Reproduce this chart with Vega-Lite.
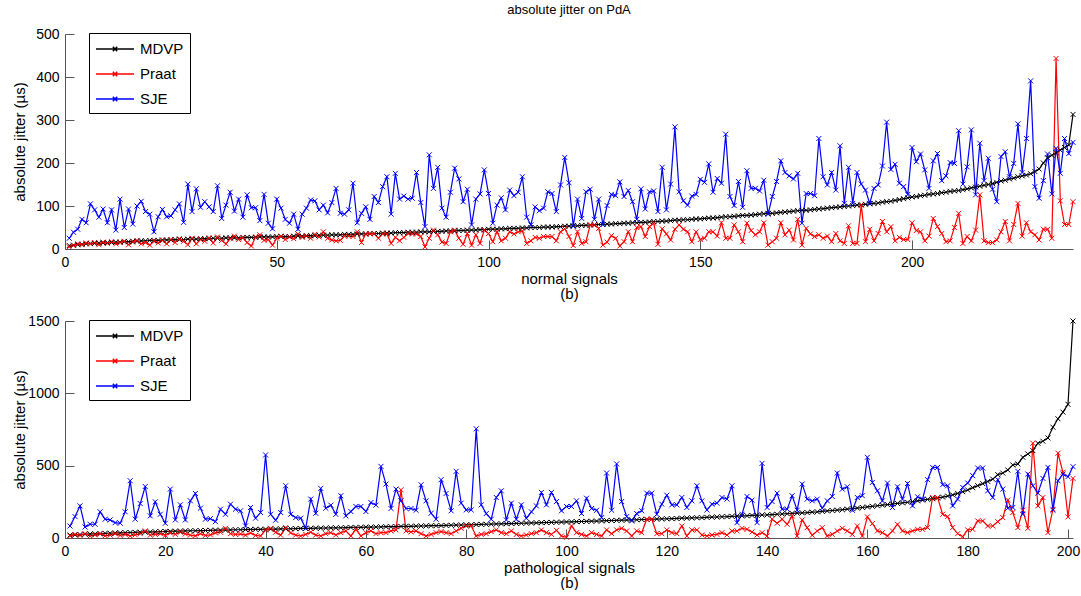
{
"$schema": "https://vega.github.io/schema/vega-lite/v6.json",
"padding": {"left": 12, "top": 4, "right": 5, "bottom": 0},
"spacing": 13,
"config": {
  "font": "Liberation Sans",
  "view": {"stroke": null},
  "axis": {"domainColor": "#555", "tickColor": "#555", "tickSize": -9, "labelPadding": 15, "labelFontSize": 14, "titleFontSize": 15, "titleFontWeight": "normal", "labelColor": "#000", "titleColor": "#000", "grid": false, "labelFlush": false, "domainWidth": 1, "tickWidth": 1},
  "axisX": {"titlePadding": 2, "titleLineHeight": 15},
  "axisY": {"titleX": -38},
  "legend": {"title": null, "orient": "none", "legendX": 24, "legendY": -1, "symbolType": "M-1,0L3.22,0M0.87,-0.25L1.36,0.25M0.87,0.25L1.36,-0.25", "symbolSize": 324, "symbolStrokeWidth": 1.5, "labelFontSize": 15, "labelOffset": 25, "rowPadding": 7, "padding": 6, "strokeColor": "#000", "fillColor": "#fff", "labelColor": "#000"},
  "title": {"fontSize": 13, "fontWeight": "normal", "color": "#000", "frame": "group", "offset": 10}
},
"datasets": {
"normal": [
{"x":1,"MDVP":8,"Praat":5,"SJE":25},{"x":2,"MDVP":9,"Praat":8,"SJE":39},{"x":3,"MDVP":10,"Praat":12,"SJE":46},{"x":4,"MDVP":11,"Praat":10,"SJE":69},{"x":5,"MDVP":12,"Praat":14,"SJE":61},{"x":6,"MDVP":13,"Praat":12,"SJE":105},{"x":7,"MDVP":13,"Praat":15,"SJE":91},{"x":8,"MDVP":14,"Praat":10,"SJE":74},{"x":9,"MDVP":14,"Praat":16,"SJE":93},{"x":10,"MDVP":15,"Praat":13,"SJE":61},
{"x":11,"MDVP":15,"Praat":17,"SJE":91},{"x":12,"MDVP":16,"Praat":12,"SJE":44},{"x":13,"MDVP":16,"Praat":15,"SJE":116},{"x":14,"MDVP":17,"Praat":18,"SJE":50},{"x":15,"MDVP":17,"Praat":10,"SJE":93},{"x":16,"MDVP":18,"Praat":16,"SJE":58},{"x":17,"MDVP":18,"Praat":20,"SJE":100},{"x":18,"MDVP":19,"Praat":12,"SJE":111},{"x":19,"MDVP":19,"Praat":15,"SJE":87},{"x":20,"MDVP":20,"Praat":9,"SJE":81},
{"x":21,"MDVP":20,"Praat":18,"SJE":40},{"x":22,"MDVP":20,"Praat":14,"SJE":75},{"x":23,"MDVP":21,"Praat":20,"SJE":92},{"x":24,"MDVP":21,"Praat":12,"SJE":75},{"x":25,"MDVP":21,"Praat":22,"SJE":77},{"x":26,"MDVP":22,"Praat":15,"SJE":91},{"x":27,"MDVP":22,"Praat":24,"SJE":105},{"x":28,"MDVP":22,"Praat":18,"SJE":62},{"x":29,"MDVP":23,"Praat":10,"SJE":151},{"x":30,"MDVP":23,"Praat":25,"SJE":87},
{"x":31,"MDVP":23,"Praat":12,"SJE":140},{"x":32,"MDVP":24,"Praat":22,"SJE":97},{"x":33,"MDVP":24,"Praat":18,"SJE":110},{"x":34,"MDVP":24,"Praat":26,"SJE":98},{"x":35,"MDVP":25,"Praat":14,"SJE":87},{"x":36,"MDVP":25,"Praat":28,"SJE":147},{"x":37,"MDVP":25,"Praat":20,"SJE":71},{"x":38,"MDVP":26,"Praat":12,"SJE":102},{"x":39,"MDVP":26,"Praat":24,"SJE":132},{"x":40,"MDVP":26,"Praat":30,"SJE":88},
{"x":41,"MDVP":26,"Praat":22,"SJE":116},{"x":42,"MDVP":27,"Praat":26,"SJE":74},{"x":43,"MDVP":27,"Praat":15,"SJE":126},{"x":44,"MDVP":27,"Praat":7,"SJE":96},{"x":45,"MDVP":27,"Praat":28,"SJE":96},{"x":46,"MDVP":28,"Praat":33,"SJE":66},{"x":47,"MDVP":28,"Praat":20,"SJE":127},{"x":48,"MDVP":28,"Praat":22,"SJE":60},{"x":49,"MDVP":28,"Praat":9,"SJE":47},{"x":50,"MDVP":29,"Praat":25,"SJE":116},
{"x":51,"MDVP":29,"Praat":30,"SJE":95},{"x":52,"MDVP":29,"Praat":22,"SJE":69},{"x":53,"MDVP":29,"Praat":28,"SJE":60},{"x":54,"MDVP":30,"Praat":24,"SJE":81},{"x":55,"MDVP":30,"Praat":35,"SJE":46},{"x":56,"MDVP":30,"Praat":27,"SJE":81},{"x":57,"MDVP":31,"Praat":30,"SJE":95},{"x":58,"MDVP":31,"Praat":25,"SJE":114},{"x":59,"MDVP":31,"Praat":34,"SJE":112},{"x":60,"MDVP":32,"Praat":28,"SJE":91},
{"x":61,"MDVP":32,"Praat":40,"SJE":102},{"x":62,"MDVP":32,"Praat":25,"SJE":84},{"x":63,"MDVP":33,"Praat":21,"SJE":108},{"x":64,"MDVP":33,"Praat":19,"SJE":141},{"x":65,"MDVP":33,"Praat":20,"SJE":83},{"x":66,"MDVP":34,"Praat":30,"SJE":81},{"x":67,"MDVP":34,"Praat":30,"SJE":91},{"x":68,"MDVP":34,"Praat":29,"SJE":153},{"x":69,"MDVP":35,"Praat":40,"SJE":61},{"x":70,"MDVP":35,"Praat":15,"SJE":83},
{"x":71,"MDVP":35,"Praat":35,"SJE":98},{"x":72,"MDVP":36,"Praat":35,"SJE":69},{"x":73,"MDVP":36,"Praat":36,"SJE":122},{"x":74,"MDVP":36,"Praat":25,"SJE":108},{"x":75,"MDVP":37,"Praat":35,"SJE":145},{"x":76,"MDVP":37,"Praat":35,"SJE":168},{"x":77,"MDVP":37,"Praat":13,"SJE":81},{"x":78,"MDVP":38,"Praat":27,"SJE":176},{"x":79,"MDVP":38,"Praat":19,"SJE":116},{"x":80,"MDVP":38,"Praat":27,"SJE":123},
{"x":81,"MDVP":39,"Praat":36,"SJE":116},{"x":82,"MDVP":39,"Praat":35,"SJE":118},{"x":83,"MDVP":39,"Praat":35,"SJE":178},{"x":84,"MDVP":40,"Praat":29,"SJE":108},{"x":85,"MDVP":40,"Praat":5,"SJE":52},{"x":86,"MDVP":40,"Praat":25,"SJE":219},{"x":87,"MDVP":41,"Praat":44,"SJE":141},{"x":88,"MDVP":41,"Praat":33,"SJE":190},{"x":89,"MDVP":41,"Praat":16,"SJE":95},{"x":90,"MDVP":42,"Praat":13,"SJE":74},
{"x":91,"MDVP":42,"Praat":40,"SJE":132},{"x":92,"MDVP":42,"Praat":44,"SJE":188},{"x":93,"MDVP":43,"Praat":25,"SJE":163},{"x":94,"MDVP":43,"Praat":11,"SJE":110},{"x":95,"MDVP":44,"Praat":36,"SJE":139},{"x":96,"MDVP":44,"Praat":9,"SJE":56},{"x":97,"MDVP":44,"Praat":33,"SJE":116},{"x":98,"MDVP":45,"Praat":13,"SJE":128},{"x":99,"MDVP":45,"Praat":44,"SJE":184},{"x":100,"MDVP":46,"Praat":36,"SJE":129},
{"x":101,"MDVP":46,"Praat":17,"SJE":60},{"x":102,"MDVP":46,"Praat":40,"SJE":102},{"x":103,"MDVP":47,"Praat":19,"SJE":119},{"x":104,"MDVP":47,"Praat":25,"SJE":91},{"x":105,"MDVP":48,"Praat":40,"SJE":137},{"x":106,"MDVP":48,"Praat":35,"SJE":124},{"x":107,"MDVP":48,"Praat":40,"SJE":132},{"x":108,"MDVP":49,"Praat":42,"SJE":168},{"x":109,"MDVP":49,"Praat":13,"SJE":74},{"x":110,"MDVP":50,"Praat":19,"SJE":56},
{"x":111,"MDVP":50,"Praat":27,"SJE":98},{"x":112,"MDVP":50,"Praat":25,"SJE":89},{"x":113,"MDVP":51,"Praat":29,"SJE":95},{"x":114,"MDVP":51,"Praat":29,"SJE":133},{"x":115,"MDVP":51,"Praat":29,"SJE":129},{"x":116,"MDVP":52,"Praat":19,"SJE":87},{"x":117,"MDVP":52,"Praat":40,"SJE":149},{"x":118,"MDVP":53,"Praat":47,"SJE":213},{"x":119,"MDVP":53,"Praat":29,"SJE":154},{"x":120,"MDVP":54,"Praat":8,"SJE":53},
{"x":121,"MDVP":54,"Praat":40,"SJE":116},{"x":122,"MDVP":55,"Praat":13,"SJE":71},{"x":123,"MDVP":55,"Praat":17,"SJE":133},{"x":124,"MDVP":56,"Praat":56,"SJE":139},{"x":125,"MDVP":56,"Praat":56,"SJE":69},{"x":126,"MDVP":57,"Praat":48,"SJE":116},{"x":127,"MDVP":57,"Praat":9,"SJE":57},{"x":128,"MDVP":58,"Praat":16,"SJE":101},{"x":129,"MDVP":58,"Praat":31,"SJE":127},{"x":130,"MDVP":59,"Praat":25,"SJE":124},
{"x":131,"MDVP":59,"Praat":7,"SJE":156},{"x":132,"MDVP":60,"Praat":17,"SJE":122},{"x":133,"MDVP":60,"Praat":40,"SJE":136},{"x":134,"MDVP":61,"Praat":17,"SJE":110},{"x":135,"MDVP":61,"Praat":50,"SJE":69},{"x":136,"MDVP":62,"Praat":52,"SJE":140},{"x":137,"MDVP":62,"Praat":29,"SJE":93},{"x":138,"MDVP":63,"Praat":52,"SJE":133},{"x":139,"MDVP":64,"Praat":60,"SJE":135},{"x":140,"MDVP":64,"Praat":11,"SJE":87},
{"x":141,"MDVP":65,"Praat":47,"SJE":190},{"x":142,"MDVP":65,"Praat":35,"SJE":91},{"x":143,"MDVP":66,"Praat":21,"SJE":151},{"x":144,"MDVP":67,"Praat":46,"SJE":284},{"x":145,"MDVP":67,"Praat":56,"SJE":133},{"x":146,"MDVP":68,"Praat":46,"SJE":112},{"x":147,"MDVP":68,"Praat":40,"SJE":102},{"x":148,"MDVP":69,"Praat":17,"SJE":123},{"x":149,"MDVP":70,"Praat":40,"SJE":127},{"x":150,"MDVP":70,"Praat":22,"SJE":162},
{"x":151,"MDVP":71,"Praat":25,"SJE":155},{"x":152,"MDVP":72,"Praat":40,"SJE":198},{"x":153,"MDVP":72,"Praat":40,"SJE":132},{"x":154,"MDVP":73,"Praat":30,"SJE":164},{"x":155,"MDVP":74,"Praat":61,"SJE":153},{"x":156,"MDVP":75,"Praat":25,"SJE":267},{"x":157,"MDVP":75,"Praat":25,"SJE":122},{"x":158,"MDVP":76,"Praat":56,"SJE":101},{"x":159,"MDVP":77,"Praat":40,"SJE":157},{"x":160,"MDVP":78,"Praat":17,"SJE":97},
{"x":161,"MDVP":78,"Praat":60,"SJE":182},{"x":162,"MDVP":79,"Praat":43,"SJE":141},{"x":163,"MDVP":80,"Praat":33,"SJE":141},{"x":164,"MDVP":81,"Praat":40,"SJE":135},{"x":165,"MDVP":82,"Praat":61,"SJE":160},{"x":166,"MDVP":83,"Praat":9,"SJE":81},{"x":167,"MDVP":83,"Praat":17,"SJE":122},{"x":168,"MDVP":84,"Praat":25,"SJE":157},{"x":169,"MDVP":85,"Praat":61,"SJE":205},{"x":170,"MDVP":86,"Praat":33,"SJE":178},
{"x":171,"MDVP":87,"Praat":44,"SJE":170},{"x":172,"MDVP":88,"Praat":21,"SJE":163},{"x":173,"MDVP":89,"Praat":69,"SJE":176},{"x":174,"MDVP":90,"Praat":9,"SJE":60},{"x":175,"MDVP":90,"Praat":48,"SJE":129},{"x":176,"MDVP":91,"Praat":35,"SJE":129},{"x":177,"MDVP":92,"Praat":29,"SJE":124},{"x":178,"MDVP":93,"Praat":33,"SJE":257},{"x":179,"MDVP":94,"Praat":25,"SJE":168},{"x":180,"MDVP":95,"Praat":30,"SJE":149},
{"x":181,"MDVP":96,"Praat":17,"SJE":178},{"x":182,"MDVP":97,"Praat":36,"SJE":137},{"x":183,"MDVP":98,"Praat":19,"SJE":240},{"x":184,"MDVP":99,"Praat":13,"SJE":106},{"x":185,"MDVP":100,"Praat":54,"SJE":190},{"x":186,"MDVP":101,"Praat":13,"SJE":106},{"x":187,"MDVP":102,"Praat":13,"SJE":178},{"x":188,"MDVP":103,"Praat":102,"SJE":151},{"x":189,"MDVP":104,"Praat":17,"SJE":137},{"x":190,"MDVP":105,"Praat":46,"SJE":106},
{"x":191,"MDVP":106,"Praat":19,"SJE":141},{"x":192,"MDVP":107,"Praat":36,"SJE":149},{"x":193,"MDVP":109,"Praat":64,"SJE":193},{"x":194,"MDVP":110,"Praat":40,"SJE":295},{"x":195,"MDVP":111,"Praat":52,"SJE":185},{"x":196,"MDVP":113,"Praat":19,"SJE":197},{"x":197,"MDVP":115,"Praat":27,"SJE":153},{"x":198,"MDVP":117,"Praat":22,"SJE":145},{"x":199,"MDVP":119,"Praat":22,"SJE":127},{"x":200,"MDVP":121,"Praat":61,"SJE":236},
{"x":201,"MDVP":122,"Praat":43,"SJE":203},{"x":202,"MDVP":124,"Praat":40,"SJE":221},{"x":203,"MDVP":125,"Praat":19,"SJE":184},{"x":204,"MDVP":127,"Praat":30,"SJE":141},{"x":205,"MDVP":128,"Praat":71,"SJE":205},{"x":206,"MDVP":129,"Praat":52,"SJE":222},{"x":207,"MDVP":131,"Praat":36,"SJE":159},{"x":208,"MDVP":132,"Praat":17,"SJE":170},{"x":209,"MDVP":134,"Praat":19,"SJE":201},{"x":210,"MDVP":135,"Praat":50,"SJE":199},
{"x":211,"MDVP":136,"Praat":83,"SJE":275},{"x":212,"MDVP":138,"Praat":13,"SJE":151},{"x":213,"MDVP":140,"Praat":29,"SJE":191},{"x":214,"MDVP":142,"Praat":19,"SJE":277},{"x":215,"MDVP":144,"Praat":44,"SJE":126},{"x":216,"MDVP":146,"Praat":126,"SJE":246},{"x":217,"MDVP":148,"Praat":19,"SJE":159},{"x":218,"MDVP":150,"Praat":15,"SJE":211},{"x":219,"MDVP":152,"Praat":15,"SJE":139},{"x":220,"MDVP":155,"Praat":21,"SJE":110},
{"x":221,"MDVP":158,"Praat":40,"SJE":215},{"x":222,"MDVP":160,"Praat":64,"SJE":226},{"x":223,"MDVP":163,"Praat":19,"SJE":168},{"x":224,"MDVP":165,"Praat":57,"SJE":199},{"x":225,"MDVP":168,"Praat":106,"SJE":291},{"x":226,"MDVP":170,"Praat":30,"SJE":178},{"x":227,"MDVP":172,"Praat":61,"SJE":257},{"x":228,"MDVP":175,"Praat":40,"SJE":391},{"x":229,"MDVP":180,"Praat":33,"SJE":145},{"x":230,"MDVP":186,"Praat":21,"SJE":118},
{"x":231,"MDVP":200,"Praat":46,"SJE":159},{"x":232,"MDVP":212,"Praat":46,"SJE":221},{"x":233,"MDVP":218,"Praat":25,"SJE":128},{"x":234,"MDVP":224,"Praat":443,"SJE":234},{"x":235,"MDVP":230,"Praat":112,"SJE":176},{"x":236,"MDVP":236,"Praat":57,"SJE":257},{"x":237,"MDVP":242,"Praat":57,"SJE":222},{"x":238,"MDVP":313,"Praat":110,"SJE":248}
],
"patho": [
{"x":1,"MDVP":20,"Praat":15,"SJE":83},{"x":2,"MDVP":22,"Praat":25,"SJE":148},{"x":3,"MDVP":24,"Praat":18,"SJE":222},{"x":4,"MDVP":26,"Praat":30,"SJE":76},{"x":5,"MDVP":28,"Praat":14,"SJE":95},{"x":6,"MDVP":29,"Praat":22,"SJE":95},{"x":7,"MDVP":31,"Praat":28,"SJE":181},{"x":8,"MDVP":32,"Praat":15,"SJE":130},{"x":9,"MDVP":33,"Praat":20,"SJE":125},{"x":10,"MDVP":35,"Praat":30,"SJE":106},
{"x":11,"MDVP":36,"Praat":18,"SJE":102},{"x":12,"MDVP":37,"Praat":25,"SJE":181},{"x":13,"MDVP":38,"Praat":14,"SJE":396},{"x":14,"MDVP":39,"Praat":22,"SJE":130},{"x":15,"MDVP":40,"Praat":30,"SJE":238},{"x":16,"MDVP":41,"Praat":49,"SJE":356},{"x":17,"MDVP":42,"Praat":20,"SJE":153},{"x":18,"MDVP":43,"Praat":25,"SJE":250},{"x":19,"MDVP":44,"Praat":30,"SJE":164},{"x":20,"MDVP":45,"Praat":18,"SJE":102},
{"x":21,"MDVP":46,"Praat":35,"SJE":338},{"x":22,"MDVP":47,"Praat":25,"SJE":125},{"x":23,"MDVP":48,"Praat":40,"SJE":229},{"x":24,"MDVP":49,"Praat":28,"SJE":125},{"x":25,"MDVP":50,"Praat":20,"SJE":257},{"x":26,"MDVP":50,"Praat":15,"SJE":308},{"x":27,"MDVP":51,"Praat":30,"SJE":206},{"x":28,"MDVP":52,"Praat":18,"SJE":130},{"x":29,"MDVP":53,"Praat":22,"SJE":134},{"x":30,"MDVP":54,"Praat":35,"SJE":113},
{"x":31,"MDVP":54,"Praat":40,"SJE":199},{"x":32,"MDVP":55,"Praat":67,"SJE":164},{"x":33,"MDVP":56,"Praat":30,"SJE":234},{"x":34,"MDVP":57,"Praat":25,"SJE":199},{"x":35,"MDVP":57,"Praat":28,"SJE":188},{"x":36,"MDVP":58,"Praat":20,"SJE":83},{"x":37,"MDVP":59,"Praat":35,"SJE":211},{"x":38,"MDVP":60,"Praat":18,"SJE":137},{"x":39,"MDVP":60,"Praat":14,"SJE":176},{"x":40,"MDVP":61,"Praat":55,"SJE":574},
{"x":41,"MDVP":62,"Praat":67,"SJE":164},{"x":42,"MDVP":62,"Praat":40,"SJE":123},{"x":43,"MDVP":63,"Praat":20,"SJE":176},{"x":44,"MDVP":64,"Praat":72,"SJE":361},{"x":45,"MDVP":64,"Praat":35,"SJE":164},{"x":46,"MDVP":65,"Praat":20,"SJE":141},{"x":47,"MDVP":66,"Praat":14,"SJE":137},{"x":48,"MDVP":66,"Praat":25,"SJE":67},{"x":49,"MDVP":67,"Praat":40,"SJE":269},{"x":50,"MDVP":68,"Praat":20,"SJE":171},
{"x":51,"MDVP":68,"Praat":14,"SJE":343},{"x":52,"MDVP":69,"Praat":30,"SJE":206},{"x":53,"MDVP":70,"Praat":37,"SJE":227},{"x":54,"MDVP":70,"Praat":21,"SJE":164},{"x":55,"MDVP":71,"Praat":37,"SJE":292},{"x":56,"MDVP":72,"Praat":49,"SJE":153},{"x":57,"MDVP":73,"Praat":14,"SJE":183},{"x":58,"MDVP":73,"Praat":60,"SJE":218},{"x":59,"MDVP":74,"Praat":14,"SJE":218},{"x":60,"MDVP":75,"Praat":37,"SJE":183},
{"x":61,"MDVP":75,"Praat":49,"SJE":245},{"x":62,"MDVP":76,"Praat":30,"SJE":227},{"x":63,"MDVP":77,"Praat":37,"SJE":495},{"x":64,"MDVP":78,"Praat":37,"SJE":373},{"x":65,"MDVP":78,"Praat":49,"SJE":204},{"x":66,"MDVP":79,"Praat":56,"SJE":338},{"x":67,"MDVP":80,"Praat":333,"SJE":257},{"x":68,"MDVP":81,"Praat":49,"SJE":204},{"x":69,"MDVP":81,"Praat":42,"SJE":204},{"x":70,"MDVP":82,"Praat":49,"SJE":192},
{"x":71,"MDVP":83,"Praat":30,"SJE":368},{"x":72,"MDVP":84,"Praat":14,"SJE":257},{"x":73,"MDVP":85,"Praat":25,"SJE":171},{"x":74,"MDVP":85,"Praat":37,"SJE":130},{"x":75,"MDVP":86,"Praat":44,"SJE":403},{"x":76,"MDVP":87,"Praat":37,"SJE":308},{"x":77,"MDVP":88,"Praat":30,"SJE":188},{"x":78,"MDVP":89,"Praat":49,"SJE":461},{"x":79,"MDVP":90,"Praat":67,"SJE":241},{"x":80,"MDVP":91,"Praat":83,"SJE":194},
{"x":81,"MDVP":92,"Praat":83,"SJE":194},{"x":82,"MDVP":93,"Praat":14,"SJE":755},{"x":83,"MDVP":94,"Praat":25,"SJE":229},{"x":84,"MDVP":95,"Praat":30,"SJE":169},{"x":85,"MDVP":96,"Praat":44,"SJE":130},{"x":86,"MDVP":97,"Praat":56,"SJE":280},{"x":87,"MDVP":98,"Praat":37,"SJE":326},{"x":88,"MDVP":99,"Praat":30,"SJE":125},{"x":89,"MDVP":100,"Praat":49,"SJE":241},{"x":90,"MDVP":101,"Praat":25,"SJE":130},
{"x":91,"MDVP":102,"Praat":14,"SJE":229},{"x":92,"MDVP":103,"Praat":21,"SJE":137},{"x":93,"MDVP":104,"Praat":30,"SJE":181},{"x":94,"MDVP":105,"Praat":37,"SJE":222},{"x":95,"MDVP":106,"Praat":56,"SJE":315},{"x":96,"MDVP":107,"Praat":37,"SJE":229},{"x":97,"MDVP":108,"Praat":25,"SJE":315},{"x":98,"MDVP":109,"Praat":53,"SJE":252},{"x":99,"MDVP":110,"Praat":14,"SJE":188},{"x":100,"MDVP":111,"Praat":5,"SJE":218},
{"x":101,"MDVP":112,"Praat":83,"SJE":218},{"x":102,"MDVP":113,"Praat":37,"SJE":257},{"x":103,"MDVP":114,"Praat":25,"SJE":169},{"x":104,"MDVP":115,"Praat":14,"SJE":275},{"x":105,"MDVP":116,"Praat":37,"SJE":204},{"x":106,"MDVP":117,"Praat":25,"SJE":192},{"x":107,"MDVP":118,"Praat":14,"SJE":141},{"x":108,"MDVP":120,"Praat":56,"SJE":449},{"x":109,"MDVP":121,"Praat":30,"SJE":192},{"x":110,"MDVP":122,"Praat":56,"SJE":512},
{"x":111,"MDVP":123,"Praat":67,"SJE":252},{"x":112,"MDVP":124,"Praat":49,"SJE":148},{"x":113,"MDVP":125,"Praat":14,"SJE":118},{"x":114,"MDVP":126,"Praat":49,"SJE":169},{"x":115,"MDVP":128,"Praat":37,"SJE":188},{"x":116,"MDVP":129,"Praat":130,"SJE":310},{"x":117,"MDVP":130,"Praat":130,"SJE":310},{"x":118,"MDVP":131,"Praat":30,"SJE":164},{"x":119,"MDVP":132,"Praat":30,"SJE":234},{"x":120,"MDVP":133,"Praat":56,"SJE":296},
{"x":121,"MDVP":134,"Praat":37,"SJE":229},{"x":122,"MDVP":135,"Praat":30,"SJE":229},{"x":123,"MDVP":137,"Praat":83,"SJE":280},{"x":124,"MDVP":138,"Praat":14,"SJE":211},{"x":125,"MDVP":139,"Praat":56,"SJE":257},{"x":126,"MDVP":140,"Praat":56,"SJE":361},{"x":127,"MDVP":141,"Praat":21,"SJE":257},{"x":128,"MDVP":143,"Praat":14,"SJE":194},{"x":129,"MDVP":144,"Praat":21,"SJE":234},{"x":130,"MDVP":145,"Praat":25,"SJE":241},
{"x":131,"MDVP":147,"Praat":37,"SJE":280},{"x":132,"MDVP":148,"Praat":21,"SJE":269},{"x":133,"MDVP":150,"Praat":49,"SJE":361},{"x":134,"MDVP":151,"Praat":49,"SJE":106},{"x":135,"MDVP":153,"Praat":67,"SJE":164},{"x":136,"MDVP":154,"Praat":60,"SJE":287},{"x":137,"MDVP":156,"Praat":42,"SJE":262},{"x":138,"MDVP":157,"Praat":21,"SJE":106},{"x":139,"MDVP":159,"Praat":37,"SJE":516},{"x":140,"MDVP":160,"Praat":14,"SJE":211},
{"x":141,"MDVP":162,"Praat":130,"SJE":252},{"x":142,"MDVP":164,"Praat":102,"SJE":310},{"x":143,"MDVP":166,"Praat":130,"SJE":199},{"x":144,"MDVP":168,"Praat":95,"SJE":199},{"x":145,"MDVP":170,"Praat":153,"SJE":292},{"x":146,"MDVP":172,"Praat":14,"SJE":192},{"x":147,"MDVP":174,"Praat":125,"SJE":373},{"x":148,"MDVP":176,"Praat":72,"SJE":269},{"x":149,"MDVP":179,"Praat":19,"SJE":257},{"x":150,"MDVP":181,"Praat":49,"SJE":269},
{"x":151,"MDVP":184,"Praat":72,"SJE":206},{"x":152,"MDVP":187,"Praat":14,"SJE":257},{"x":153,"MDVP":190,"Praat":25,"SJE":287},{"x":154,"MDVP":193,"Praat":49,"SJE":449},{"x":155,"MDVP":196,"Praat":67,"SJE":338},{"x":156,"MDVP":200,"Praat":49,"SJE":354},{"x":157,"MDVP":203,"Praat":25,"SJE":192},{"x":158,"MDVP":207,"Praat":83,"SJE":280},{"x":159,"MDVP":211,"Praat":14,"SJE":292},{"x":160,"MDVP":215,"Praat":146,"SJE":558},
{"x":161,"MDVP":219,"Praat":100,"SJE":384},{"x":162,"MDVP":223,"Praat":49,"SJE":326},{"x":163,"MDVP":227,"Praat":37,"SJE":257},{"x":164,"MDVP":231,"Praat":14,"SJE":380},{"x":165,"MDVP":235,"Praat":49,"SJE":211},{"x":166,"MDVP":239,"Praat":95,"SJE":354},{"x":167,"MDVP":243,"Praat":49,"SJE":269},{"x":168,"MDVP":247,"Praat":37,"SJE":377},{"x":169,"MDVP":252,"Praat":49,"SJE":222},{"x":170,"MDVP":257,"Praat":60,"SJE":285},
{"x":171,"MDVP":262,"Praat":60,"SJE":269},{"x":172,"MDVP":267,"Praat":72,"SJE":403},{"x":173,"MDVP":272,"Praat":280,"SJE":488},{"x":174,"MDVP":277,"Praat":280,"SJE":488},{"x":175,"MDVP":283,"Praat":164,"SJE":368},{"x":176,"MDVP":290,"Praat":148,"SJE":361},{"x":177,"MDVP":298,"Praat":72,"SJE":222},{"x":178,"MDVP":308,"Praat":30,"SJE":269},{"x":179,"MDVP":320,"Praat":9,"SJE":350},{"x":180,"MDVP":332,"Praat":56,"SJE":380},
{"x":181,"MDVP":348,"Praat":60,"SJE":431},{"x":182,"MDVP":362,"Praat":118,"SJE":484},{"x":183,"MDVP":376,"Praat":118,"SJE":484},{"x":184,"MDVP":391,"Praat":83,"SJE":326},{"x":185,"MDVP":407,"Praat":83,"SJE":280},{"x":186,"MDVP":438,"Praat":113,"SJE":403},{"x":187,"MDVP":449,"Praat":141,"SJE":338},{"x":188,"MDVP":470,"Praat":262,"SJE":206},{"x":189,"MDVP":505,"Praat":176,"SJE":211},{"x":190,"MDVP":512,"Praat":72,"SJE":461},
{"x":191,"MDVP":558,"Praat":192,"SJE":164},{"x":192,"MDVP":581,"Praat":67,"SJE":442},{"x":193,"MDVP":604,"Praat":655,"SJE":361},{"x":194,"MDVP":655,"Praat":222,"SJE":310},{"x":195,"MDVP":669,"Praat":280,"SJE":412},{"x":196,"MDVP":692,"Praat":37,"SJE":488},{"x":197,"MDVP":766,"Praat":199,"SJE":192},{"x":198,"MDVP":824,"Praat":586,"SJE":396},{"x":199,"MDVP":870,"Praat":454,"SJE":442},{"x":200,"MDVP":924,"Praat":146,"SJE":424},
{"x":201,"MDVP":1500,"Praat":412,"SJE":493}
]
},
"vconcat": [
{
  "title": {"text": "absolute jitter on PdA"},
  "width": 1008, "height": 215,
  "data": {"name": "normal"},
  "transform": [{"fold": ["MDVP", "Praat", "SJE"], "as": ["series", "value"]}],
  "encoding": {
    "x": {"field": "x", "type": "quantitative", "scale": {"domain": [0, 238], "nice": false, "zero": false}, "axis": {"values": [0, 50, 100, 150, 200], "title": ["normal signals", "(b)"]}},
    "y": {"field": "value", "type": "quantitative", "scale": {"domain": [0, 500], "nice": false}, "axis": {"values": [0, 100, 200, 300, 400, 500], "title": "absolute jitter (µs)"}},
    "color": {"field": "series", "type": "nominal", "scale": {"domain": ["MDVP", "Praat", "SJE"], "range": ["#000000", "#ff0000", "#0000ff"]}, "legend": {"orient": "none", "legendX": 24, "legendY": -1}}
  },
  "layer": [
    {"mark": {"type": "line", "strokeWidth": 1.2}},
    {"mark": {"type": "point", "shape": "M-1,-1L1,1M-1,1L1,-1", "size": 25, "filled": false, "strokeWidth": 1, "opacity": 1}}
  ]
},
{
  "width": 1008, "height": 217,
  "data": {"name": "patho"},
  "transform": [{"fold": ["MDVP", "Praat", "SJE"], "as": ["series", "value"]}],
  "encoding": {
    "x": {"field": "x", "type": "quantitative", "scale": {"domain": [0, 201], "nice": false, "zero": false}, "axis": {"values": [0, 20, 40, 60, 80, 100, 120, 140, 160, 180, 200], "title": ["pathological signals", "(b)"]}},
    "y": {"field": "value", "type": "quantitative", "scale": {"domain": [0, 1500], "nice": false}, "axis": {"values": [0, 500, 1000, 1500], "format": "d", "title": "absolute jitter (µs)"}},
    "color": {"field": "series", "type": "nominal", "scale": {"domain": ["MDVP", "Praat", "SJE"], "range": ["#000000", "#ff0000", "#0000ff"]}, "legend": {"orient": "none", "legendX": 24, "legendY": -1}}
  },
  "layer": [
    {"mark": {"type": "line", "strokeWidth": 1.2}},
    {"mark": {"type": "point", "shape": "M-1,-1L1,1M-1,1L1,-1", "size": 25, "filled": false, "strokeWidth": 1, "opacity": 1}}
  ]
}
],
"resolve": {"scale": {"color": "independent"}}
}
